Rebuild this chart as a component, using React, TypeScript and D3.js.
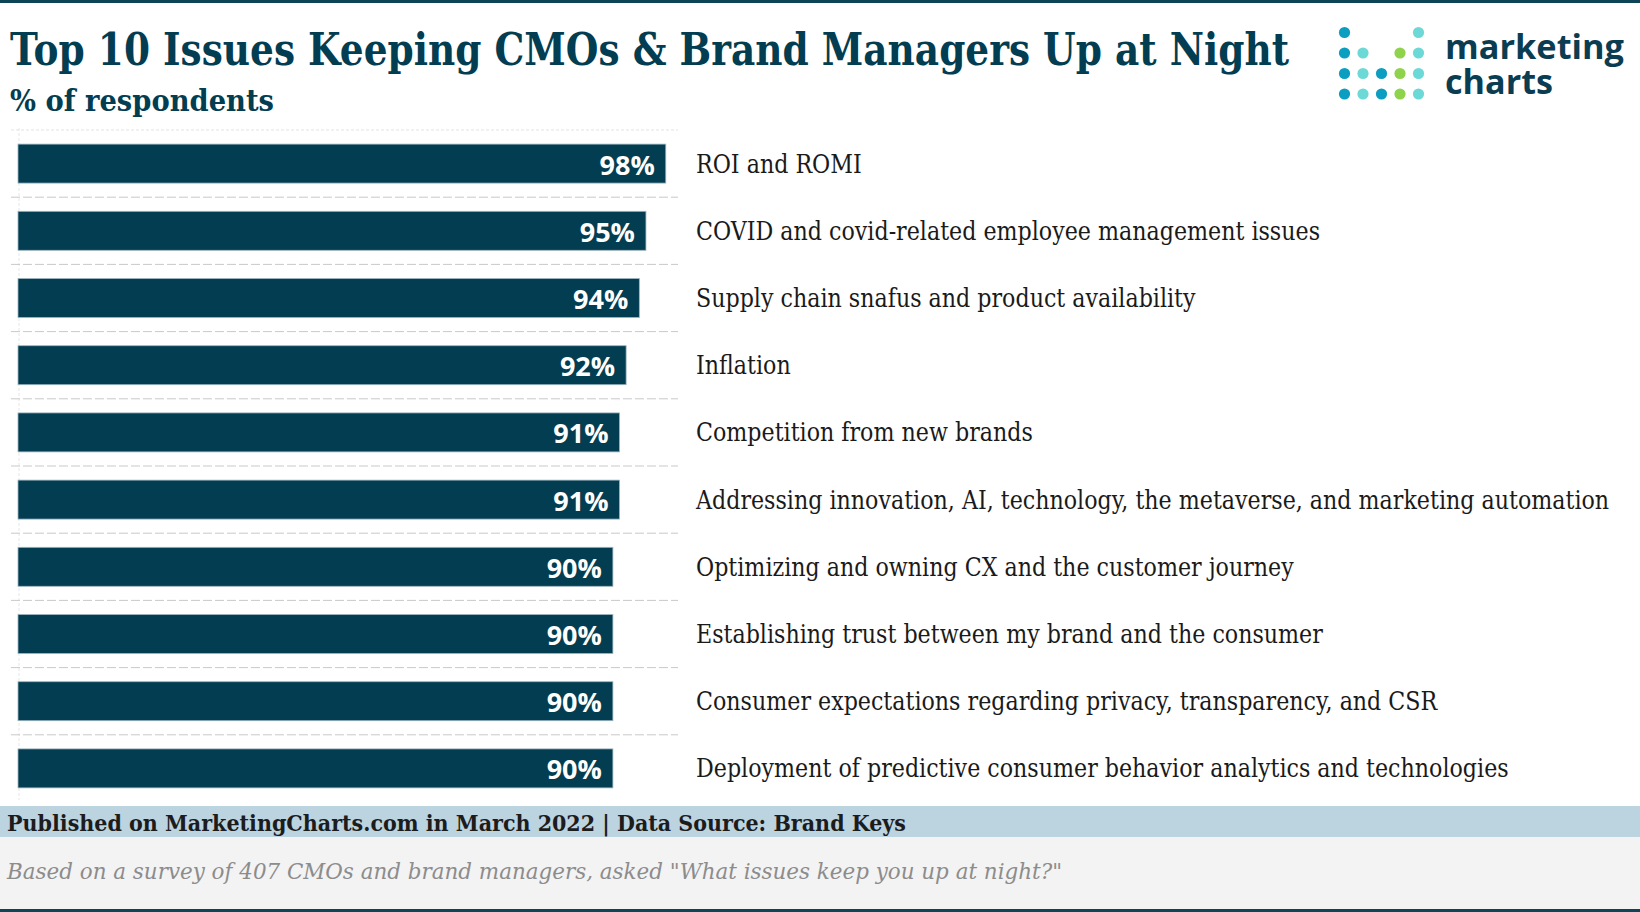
import React, { useLayoutEffect, useRef, useState } from 'react';
import * as d3 from 'd3';

const W = 1640;
const H = 912;

const categories = [
  'ROI and ROMI',
  'COVID and covid-related employee management issues',
  'Supply chain snafus and product availability',
  'Inflation',
  'Competition from new brands',
  'Addressing innovation, AI, technology, the metaverse, and marketing automation',
  'Optimizing and owning CX and the customer journey',
  'Establishing trust between my brand and the consumer',
  'Consumer expectations regarding privacy, transparency, and CSR',
  'Deployment of predictive consumer behavior analytics and technologies',
];
const values = [98, 95, 94, 92, 91, 91, 90, 90, 90, 90];

// logo dots: [col, row, colour key]
const logoDots: [number, number, string][] = [
  [0, 0, 'b'], [4, 0, 't'],
  [0, 1, 'b'], [1, 1, 't'], [3, 1, 'g'], [4, 1, 't'],
  [0, 2, 'b'], [1, 2, 't'], [2, 2, 'b'], [3, 2, 'g'], [4, 2, 't'],
  [0, 3, 'b'], [1, 3, 't'], [2, 3, 'b'], [3, 3, 'g'], [4, 3, 't'],
];
const dotColors: Record<string, string> = { b: '#0b9ec0', t: '#6dd9d6', g: '#8fd24c' };

const DARK = '#033d51';
const SLAB = '"DejaVu Serif", serif';

const App: React.FC = () => {
  const labelRef = useRef<SVGGElement>(null);
  const [labelScale, setLabelScale] = useState(0.82);

  const x = d3.scaleLinear().domain([0, 100]).range([18, 679]);
  const y = d3.scaleBand<number>()
    .domain(d3.range(categories.length))
    .range([130, 802])
    .paddingInner(0.42)
    .paddingOuter(0.21);
  const step = y.step();

  useLayoutEffect(() => {
    document.body.style.margin = '0';
    if (!labelRef.current) return;
    const texts = Array.from(labelRef.current.querySelectorAll('text')) as SVGTextElement[];
    const widest = d3.max(texts, t => t.getComputedTextLength()) || 1;
    setLabelScale(913 / widest);
  }, []);

  const gridYs = d3.range(categories.length).map(i => (y(i) as number) - (step - y.bandwidth()) / 2);

  return (
    <svg width={W} height={H} style={{ display: 'block' }}>
      <rect width={W} height={H} fill="#ffffff" />
      <rect x={0} y={0} width={W} height={3} fill="#0d4456" />

      {/* title */}
      <text x={10} y={65} fontFamily={SLAB} fontWeight="bold" fontSize={44} fill={DARK}
        textLength={1279} lengthAdjust="spacingAndGlyphs">
        Top 10 Issues Keeping CMOs &amp; Brand Managers Up at Night
      </text>
      <text x={10} y={111} fontFamily={SLAB} fontWeight="bold" fontSize={29} fill={DARK}
        textLength={264} lengthAdjust="spacingAndGlyphs">
        % of respondents
      </text>

      {/* logo */}
      <g>
        {logoDots.map(([c, r, k], i) => (
          <circle key={i} cx={1344.5 + c * 18.5} cy={32.5 + r * 20.5} r={5.6} fill={dotColors[k]} />
        ))}
        <text fontFamily='"Open Sans", sans-serif' fontWeight="bold" fontSize={34} fill="#0b3d52">
          <tspan x={1445} y={59} textLength={179} lengthAdjust="spacingAndGlyphs">marketing</tspan>
          <tspan x={1445} y={94} textLength={108} lengthAdjust="spacingAndGlyphs">charts</tspan>
        </text>
      </g>

      {/* grid */}
      <line x1={19} x2={19} y1={128} y2={800} stroke="#e6e6e6" strokeWidth={1} strokeDasharray="3,2" />
      {gridYs.map((gy, i) => (
        <line key={i} x1={11} x2={678} y1={gy} y2={gy}
          stroke={i === 0 ? '#e3e3e3' : '#c9c9c9'} strokeWidth={1}
          strokeDasharray={i === 0 ? '3,2' : '9,3'} />
      ))}

      {/* bars */}
      {values.map((v, i) => (
        <g key={i}>
          <rect x={x(0)} y={y(i)} width={x(v) - x(0)} height={y.bandwidth()}
            fill={DARK} stroke="#9fb6c0" strokeWidth={0.8} />
          <text x={x(v) - 11} y={(y(i) as number) + y.bandwidth() / 2 + 11}
            textAnchor="end" fontFamily='"Open Sans", sans-serif' fontWeight="bold"
            fontSize={27} fill="#ffffff">
            {v}%
          </text>
        </g>
      ))}

      {/* category labels */}
      <g ref={labelRef} transform={`translate(696,0) scale(${labelScale},1)`}>
        {categories.map((c, i) => (
          <text key={i} x={0} y={(y(i) as number) + y.bandwidth() / 2 + 9}
            fontFamily={SLAB} fontSize={26} fill="#1a1a1a">
            {c}
          </text>
        ))}
      </g>

      {/* footer */}
      <rect x={0} y={806} width={W} height={31} fill="#bcd3e0" />
      <text x={7} y={831} fontFamily={SLAB} fontWeight="bold" fontSize={23} fill="#1c1c1c"
        textLength={899} lengthAdjust="spacingAndGlyphs">
        Published on MarketingCharts.com in March 2022 | Data Source: Brand Keys
      </text>
      <rect x={0} y={837} width={W} height={72} fill="#f3f3f3" />
      <text x={7} y={879} fontFamily={SLAB} fontStyle="italic" fontSize={22} fill="#8c8c8c"
        textLength={1055} lengthAdjust="spacingAndGlyphs">
        Based on a survey of 407 CMOs and brand managers, asked "What issues keep you up at night?"
      </text>
      <rect x={0} y={909} width={W} height={3} fill="#0d4456" />
    </svg>
  );
};

export default App;
